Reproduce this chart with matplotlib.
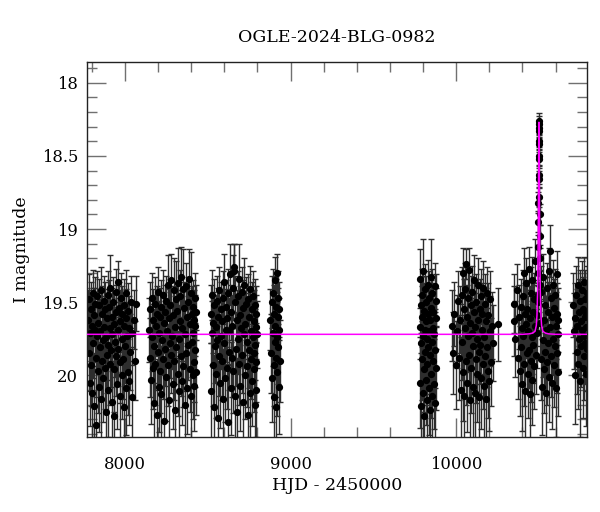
import numpy as np
import matplotlib
matplotlib.use("Agg")
import matplotlib.pyplot as plt
from matplotlib.ticker import MultipleLocator

TITLE = "OGLE-2024-BLG-0982"
XLABEL = "HJD - 2450000"
YLABEL = "I magnitude"

# ---- season 1 ----
s1_t = [7778, 7781, 7783, 7786, 7790, 7792, 7795, 7799, 7802, 7804,
        7807, 7811, 7814, 7816, 7819, 7823, 7826, 7828, 7831, 7835,
        7838, 7840, 7843, 7847, 7850, 7852, 7855, 7859, 7862, 7864,
        7867, 7871, 7874, 7876, 7879, 7883, 7886, 7888, 7891, 7895,
        7898, 7900, 7903, 7907, 7910, 7912, 7915, 7919, 7922, 7924,
        7927, 7931, 7934, 7936, 7939, 7943, 7946, 7948, 7951, 7955,
        7958, 7960, 7963, 7967, 7970, 7972, 7975, 7979, 7982, 7984,
        7987, 7991, 7994, 7996, 7999, 8003, 8006, 8008, 8011, 8015,
        8018, 8021, 8025, 8029, 8034, 8039, 8045, 8052, 8058, 8064]
s1_mag = [19.62, 19.85, 19.48, 20.05, 19.71, 19.55, 19.93, 19.66, 20.12, 19.44,
          19.78, 19.59, 20.21, 19.69, 19.51, 19.88, 20.34, 19.73, 19.46, 19.97,
          19.64, 20.08, 19.52, 19.81, 19.70, 20.16, 19.42, 19.90, 19.58, 19.76,
          20.02, 19.49, 19.67, 19.95, 19.55, 20.25, 19.74, 19.61, 19.86, 19.45,
          19.79, 20.10, 19.53, 19.68, 19.92, 19.40, 19.83, 20.18, 19.60, 19.72,
          19.50, 19.96, 19.65, 20.28, 19.77, 19.43, 19.87, 19.57, 20.06, 19.69,
          19.36, 19.82, 19.54, 20.14, 19.63, 19.91, 19.47, 20.00, 19.75, 19.58,
          19.89, 19.66, 20.22, 19.52, 19.80, 19.61, 20.09, 19.44, 19.73, 19.98,
          19.56, 20.04, 19.68, 19.84, 19.50, 20.15, 19.71, 19.62, 19.90, 19.51]
s1_err = [0.20, 0.26, 0.17, 0.30, 0.22, 0.19, 0.28, 0.21, 0.33, 0.16,
          0.24, 0.19, 0.36, 0.22, 0.18, 0.27, 0.40, 0.23, 0.17, 0.29,
          0.21, 0.31, 0.18, 0.25, 0.22, 0.34, 0.16, 0.27, 0.19, 0.24,
          0.30, 0.17, 0.21, 0.28, 0.19, 0.37, 0.23, 0.20, 0.26, 0.16,
          0.24, 0.32, 0.18, 0.22, 0.28, 0.22, 0.25, 0.35, 0.20, 0.23,
          0.17, 0.29, 0.21, 0.38, 0.24, 0.16, 0.27, 0.19, 0.31, 0.22,
          0.14, 0.25, 0.18, 0.33, 0.21, 0.28, 0.17, 0.30, 0.23, 0.19,
          0.27, 0.21, 0.36, 0.18, 0.25, 0.20, 0.32, 0.16, 0.23, 0.29,
          0.19, 0.30, 0.22, 0.26, 0.18, 0.34, 0.22, 0.20, 0.27, 0.19]

# ---- season 2 ----
s2_t = [8146, 8150, 8153, 8157, 8160, 8163, 8167, 8170, 8173, 8177,
        8180, 8183, 8187, 8190, 8193, 8197, 8200, 8203, 8207, 8210,
        8213, 8217, 8220, 8223, 8227, 8230, 8233, 8237, 8240, 8243,
        8247, 8250, 8253, 8257, 8260, 8263, 8267, 8270, 8273, 8277,
        8280, 8283, 8287, 8290, 8293, 8297, 8300, 8303, 8307, 8310,
        8313, 8317, 8320, 8323, 8327, 8330, 8333, 8337, 8340, 8343,
        8347, 8350, 8353, 8357, 8360, 8363, 8367, 8370, 8373, 8377,
        8380, 8383, 8387, 8390, 8393, 8397, 8400, 8403, 8406, 8409,
        8411, 8413, 8415, 8417, 8419, 8421, 8423, 8425, 8427, 8429]
s2_mag = [19.69, 19.88, 19.55, 20.03, 19.74, 19.47, 19.95, 19.62, 20.19, 19.80,
          19.51, 19.92, 19.66, 20.27, 19.58, 19.84, 19.43, 20.08, 19.71, 19.60,
          19.97, 19.53, 20.13, 19.76, 19.45, 19.89, 19.64, 20.31, 19.57, 19.82,
          19.49, 20.01, 19.70, 19.38, 19.93, 19.61, 20.17, 19.78, 19.52, 19.86,
          19.35, 19.73, 20.06, 19.59, 19.42, 19.90, 19.67, 20.24, 19.48, 19.81,
          19.56, 19.99, 19.37, 19.75, 20.11, 19.63, 19.46, 19.87, 19.33, 20.04,
          19.68, 19.41, 19.94, 19.54, 20.20, 19.72, 19.39, 19.85, 19.60, 20.09,
          19.50, 19.79, 19.34, 19.96, 19.65, 20.14, 19.44, 19.77, 19.58, 20.00,
          19.71, 19.53, 19.91, 19.62, 20.07, 19.47, 19.83, 19.66, 19.98, 19.57]
s2_err = [0.22, 0.27, 0.19, 0.30, 0.23, 0.17, 0.28, 0.21, 0.34, 0.25,
          0.18, 0.28, 0.21, 0.38, 0.19, 0.26, 0.17, 0.31, 0.22, 0.20,
          0.29, 0.18, 0.33, 0.24, 0.17, 0.27, 0.21, 0.40, 0.19, 0.25,
          0.17, 0.30, 0.22, 0.20, 0.28, 0.20, 0.35, 0.24, 0.18, 0.26,
          0.18, 0.23, 0.31, 0.20, 0.22, 0.27, 0.21, 0.37, 0.26, 0.25,
          0.19, 0.29, 0.24, 0.23, 0.32, 0.21, 0.18, 0.27, 0.21, 0.30,
          0.22, 0.27, 0.28, 0.18, 0.36, 0.23, 0.16, 0.26, 0.20, 0.31,
          0.17, 0.24, 0.20, 0.29, 0.21, 0.33, 0.28, 0.24, 0.19, 0.30,
          0.22, 0.18, 0.27, 0.20, 0.31, 0.17, 0.25, 0.21, 0.29, 0.19]

# ---- season 3 ----
s3_t = [8517, 8520, 8524, 8527, 8530, 8534, 8537, 8540, 8544, 8547,
        8550, 8554, 8557, 8560, 8564, 8567, 8570, 8574, 8577, 8580,
        8584, 8587, 8590, 8594, 8597, 8600, 8604, 8607, 8610, 8614,
        8617, 8620, 8624, 8627, 8630, 8634, 8637, 8640, 8644, 8647,
        8650, 8654, 8657, 8660, 8664, 8667, 8670, 8674, 8677, 8680,
        8684, 8687, 8690, 8694, 8697, 8700, 8704, 8707, 8710, 8714,
        8717, 8720, 8724, 8727, 8730, 8734, 8737, 8740, 8744, 8747,
        8750, 8753, 8756, 8759, 8762, 8765, 8768, 8771, 8774, 8777,
        8779, 8781, 8783, 8785, 8787, 8789, 8790, 8791, 8792, 8794]
s3_mag = [19.58, 20.11, 19.71, 19.45, 19.93, 19.64, 20.22, 19.52, 19.80, 19.67,
          19.99, 19.49, 19.76, 20.29, 19.60, 19.87, 19.42, 20.05, 19.73, 19.55,
          19.90, 19.63, 20.16, 19.47, 19.78, 19.36, 20.02, 19.69, 19.53, 19.95,
          19.61, 20.32, 19.44, 19.84, 19.70, 19.31, 20.09, 19.57, 19.88, 19.66,
          19.40, 19.97, 19.29, 19.26, 20.14, 19.50, 19.82, 19.62, 20.25, 19.46,
          19.75, 19.34, 19.92, 19.59, 20.07, 19.68, 19.43, 19.86, 19.54, 20.18,
          19.72, 19.38, 20.00, 19.65, 19.51, 19.94, 19.77, 20.27, 19.48, 19.83,
          19.60, 20.12, 19.41, 19.89, 19.70, 19.55, 20.04, 19.74, 19.46, 19.96,
          19.63, 19.85, 20.20, 19.52, 19.79, 19.67, 20.10, 19.58, 19.91, 19.72]
s3_err = [0.20, 0.33, 0.22, 0.17, 0.28, 0.21, 0.36, 0.18, 0.25, 0.22,
          0.30, 0.17, 0.24, 0.39, 0.20, 0.27, 0.16, 0.31, 0.23, 0.19,
          0.27, 0.21, 0.34, 0.18, 0.25, 0.19, 0.30, 0.22, 0.18, 0.28,
          0.20, 0.40, 0.17, 0.26, 0.23, 0.21, 0.32, 0.19, 0.27, 0.21,
          0.22, 0.29, 0.19, 0.16, 0.33, 0.18, 0.25, 0.20, 0.37, 0.17,
          0.24, 0.24, 0.28, 0.20, 0.31, 0.22, 0.17, 0.26, 0.19, 0.34,
          0.23, 0.18, 0.30, 0.21, 0.18, 0.28, 0.24, 0.38, 0.17, 0.26,
          0.20, 0.33, 0.16, 0.27, 0.22, 0.19, 0.31, 0.23, 0.17, 0.29,
          0.21, 0.26, 0.35, 0.18, 0.24, 0.22, 0.32, 0.19, 0.27, 0.23]

# ---- season 4 ----
s4_t = [8878, 8882, 8886, 8889, 8892, 8895, 8897, 8899, 8901, 8903,
        8905, 8907, 8909, 8911, 8913, 8915, 8917, 8919, 8921, 8923,
        8925, 8927, 8929, 8931, 8934]
s4_mag = [19.62, 19.85, 19.50, 20.02, 19.71, 19.44, 19.93, 19.58, 20.15, 19.77,
          19.35, 19.66, 20.22, 19.53, 19.88, 19.30, 19.74, 19.98, 19.47, 19.81,
          19.60, 20.08, 19.69, 19.55, 19.90]
s4_err = [0.21, 0.27, 0.18, 0.30, 0.23, 0.17, 0.28, 0.20, 0.33, 0.24,
          0.16, 0.22, 0.36, 0.19, 0.27, 0.13, 0.24, 0.30, 0.18, 0.25,
          0.20, 0.32, 0.22, 0.19, 0.28]

# ---- season 5 ----
s5_t = [9780, 9782, 9784, 9786, 9788, 9790, 9792, 9794, 9796, 9798,
        9800, 9802, 9804, 9806, 9808, 9810, 9812, 9814, 9816, 9818,
        9820, 9822, 9824, 9826, 9828, 9830, 9832, 9834, 9836, 9838,
        9840, 9842, 9844, 9846, 9848, 9850, 9852, 9854, 9856, 9858,
        9860, 9863, 9866, 9869, 9871, 9873, 9875, 9877, 9879, 9880]
s5_mag = [19.67, 19.34, 20.05, 19.78, 19.52, 20.21, 19.60, 19.89, 19.45, 20.12,
          19.73, 19.29, 19.96, 19.56, 20.28, 19.69, 19.41, 19.84, 20.03, 19.63,
          19.50, 19.92, 19.75, 20.17, 19.38, 19.81, 19.58, 20.09, 19.70, 19.47,
          19.86, 20.24, 19.62, 19.33, 19.99, 19.54, 19.77, 20.14, 19.44, 19.68,
          19.90, 19.57, 20.06, 19.72, 19.39, 19.83, 20.19, 19.61, 19.95, 19.49]
s5_err = [0.22, 0.20, 0.31, 0.26, 0.19, 0.36, 0.21, 0.28, 0.18, 0.33,
          0.24, 0.22, 0.29, 0.19, 0.41, 0.23, 0.17, 0.27, 0.31, 0.21,
          0.18, 0.28, 0.25, 0.34, 0.17, 0.26, 0.20, 0.32, 0.23, 0.18,
          0.27, 0.38, 0.21, 0.26, 0.30, 0.19, 0.24, 0.35, 0.17, 0.22,
          0.28, 0.20, 0.31, 0.23, 0.16, 0.26, 0.36, 0.21, 0.29, 0.18]

# ---- season 6 ----
s6_t = [9973, 9980, 9988, 9996, 10004, 10012, 10020, 10026, 10030, 10034,
        10037, 10040, 10043, 10046, 10049, 10052, 10055, 10058, 10061, 10064,
        10067, 10070, 10073, 10076, 10079, 10082, 10085, 10088, 10091, 10094,
        10097, 10100, 10103, 10106, 10109, 10112, 10115, 10118, 10121, 10124,
        10127, 10130, 10133, 10136, 10139, 10142, 10145, 10148, 10151, 10154,
        10157, 10160, 10163, 10166, 10169, 10172, 10175, 10178, 10181, 10184,
        10187, 10190, 10194, 10198, 10202, 10207, 10212, 10218, 10224, 10253]
s6_mag = [19.66, 19.85, 19.58, 19.93, 19.70, 19.49, 19.88, 19.62, 20.10, 19.45,
          19.77, 19.30, 19.98, 19.55, 20.14, 19.68, 19.41, 19.90, 19.24, 19.60,
          20.05, 19.73, 19.47, 19.86, 19.28, 20.17, 19.64, 19.52, 19.95, 19.71,
          19.43, 20.08, 19.80, 19.57, 19.35, 20.12, 19.67, 19.89, 19.50, 19.75,
          19.99, 19.62, 19.38, 19.84, 20.15, 19.55, 19.79, 19.46, 20.02, 19.69,
          19.58, 19.92, 19.40, 20.07, 19.74, 19.51, 19.87, 20.16, 19.63, 19.44,
          19.81, 19.97, 19.59, 20.04, 19.70, 19.48, 19.91, 19.66, 19.78, 19.65]
s6_err = [0.24, 0.28, 0.22, 0.30, 0.25, 0.20, 0.29, 0.23, 0.36, 0.19,
          0.26, 0.17, 0.33, 0.21, 0.40, 0.24, 0.18, 0.30, 0.10, 0.22,
          0.34, 0.25, 0.19, 0.29, 0.15, 0.45, 0.23, 0.20, 0.31, 0.24,
          0.18, 0.37, 0.27, 0.21, 0.17, 0.42, 0.23, 0.30, 0.19, 0.26,
          0.33, 0.22, 0.18, 0.28, 0.44, 0.21, 0.27, 0.19, 0.35, 0.24,
          0.21, 0.31, 0.18, 0.38, 0.25, 0.20, 0.29, 0.43, 0.23, 0.18,
          0.27, 0.32, 0.22, 0.34, 0.24, 0.19, 0.30, 0.23, 0.26, 0.25]

# ---- season 7 (baseline part) ----
s7_t = [10347, 10352, 10358, 10365, 10372, 10380, 10385, 10389, 10392, 10395,
        10398, 10401, 10404, 10407, 10410, 10413, 10416, 10419, 10422, 10425,
        10428, 10431, 10434, 10437, 10440, 10443, 10446, 10449, 10452, 10455,
        10458, 10461, 10464, 10467, 10470, 10473, 10476, 10479, 10482, 10486,
        10490, 10494, 10507, 10511, 10515, 10519, 10522, 10525, 10528, 10531,
        10534, 10537, 10540, 10543, 10546, 10549, 10552, 10555, 10558, 10561,
        10564, 10567, 10570, 10573, 10576, 10579, 10582, 10585, 10588, 10591,
        10594, 10597, 10600, 10603, 10606, 10609, 10611, 10613, 10615, 10617]
s7_mag = [19.63, 19.51, 19.75, 19.42, 19.88, 19.60, 19.97, 19.53, 19.81, 19.68,
          20.06, 19.46, 19.73, 19.30, 19.92, 19.58, 20.11, 19.65, 19.37, 19.85,
          19.55, 19.99, 19.70, 19.27, 19.83, 20.13, 19.61, 19.44, 19.90, 19.74,
          19.35, 20.03, 19.57, 19.79, 19.48, 19.94, 19.66, 19.22, 19.86, 19.59,
          19.71, 19.50, 19.64, 19.89, 19.43, 20.08, 19.76, 19.33, 19.96, 19.62,
          19.52, 19.84, 20.12, 19.69, 19.40, 19.91, 19.57, 19.78, 19.29, 20.01,
          19.15, 19.67, 19.47, 19.87, 20.05, 19.60, 19.75, 19.38, 19.93, 19.54,
          19.80, 19.45, 20.09, 19.66, 19.31, 19.85, 19.58, 19.98, 19.72, 19.62]
s7_err = [0.24, 0.20, 0.26, 0.18, 0.28, 0.22, 0.31, 0.19, 0.26, 0.23,
          0.32, 0.18, 0.25, 0.17, 0.29, 0.21, 0.34, 0.23, 0.17, 0.27,
          0.20, 0.30, 0.24, 0.15, 0.26, 0.35, 0.22, 0.18, 0.28, 0.25,
          0.16, 0.31, 0.21, 0.26, 0.18, 0.29, 0.23, 0.15, 0.27, 0.21,
          0.24, 0.19, 0.22, 0.28, 0.18, 0.33, 0.25, 0.16, 0.30, 0.22,
          0.19, 0.27, 0.34, 0.23, 0.17, 0.29, 0.21, 0.25, 0.16, 0.31,
          0.18, 0.23, 0.19, 0.28, 0.32, 0.22, 0.25, 0.17, 0.29, 0.20,
          0.26, 0.18, 0.33, 0.23, 0.16, 0.27, 0.21, 0.30, 0.24, 0.22]

# ---- event peak points ----
peak_t = [10492.5, 10494.0, 10495.2, 10496.3, 10497.1, 10497.8, 10498.4, 10498.9, 10499.4, 10499.8,
          10500.2, 10500.6, 10501.1, 10501.6, 10502.2, 10502.9, 10503.6, 10504.5, 10505.6, 10507.2]
peak_mag = [19.45, 19.30, 19.12, 18.95, 18.82, 18.66, 18.52, 18.42, 18.33, 18.28,
            18.26, 18.31, 18.40, 18.50, 18.63, 18.78, 18.90, 19.05, 19.20, 19.38]
peak_err = [0.10, 0.09, 0.08, 0.07, 0.07, 0.06, 0.06, 0.05, 0.05, 0.05,
            0.05, 0.05, 0.05, 0.06, 0.06, 0.07, 0.07, 0.08, 0.09, 0.10]

# ---- season 8 ----
s8_t = [10708, 10712, 10716, 10720, 10724, 10728, 10731, 10734, 10737, 10740,
        10743, 10746, 10749, 10752, 10755, 10758, 10761, 10764, 10767, 10770,
        10772, 10774, 10776, 10778, 10780, 10782, 10784, 10786, 10788, 10790]
s8_mag = [19.52, 19.70, 19.61, 20.00, 19.45, 19.84, 19.66, 19.38, 19.92, 19.57,
          19.75, 19.49, 20.04, 19.63, 19.80, 19.42, 19.69, 19.95, 19.55, 19.73,
          19.36, 19.87, 19.60, 19.48, 19.78, 19.99, 19.58, 19.67, 19.44, 19.82]
s8_err = [0.22, 0.26, 0.24, 0.33, 0.20, 0.29, 0.25, 0.19, 0.31, 0.23,
          0.27, 0.21, 0.38, 0.24, 0.28, 0.20, 0.26, 0.34, 0.22, 0.27,
          0.17, 0.30, 0.23, 0.20, 0.28, 0.36, 0.22, 0.25, 0.19, 0.29]

# ---- model curve ----
model_t = [7772, 10400, 10440, 10460, 10476, 10484, 10488, 10492, 10494, 10496,
           10497, 10498, 10499, 10500, 10501, 10502, 10503, 10504, 10506, 10508,
           10512, 10516, 10524, 10540, 10560, 10600, 10792]
model_mag = [19.72, 19.72, 19.717, 19.712, 19.70, 19.66, 19.59, 19.42, 19.25, 18.99,
             18.80, 18.58, 18.37, 18.27, 18.37, 18.58, 18.80, 18.99, 19.25, 19.42,
             19.59, 19.66, 19.70, 19.712, 19.717, 19.72, 19.72]

XLIM = (7772, 10792)
YLIM = (20.42, 17.86)

t_all = np.concatenate([s1_t, s2_t, s3_t, s4_t, s5_t, s6_t, s7_t, peak_t, s8_t])
m_all = np.concatenate([s1_mag, s2_mag, s3_mag, s4_mag, s5_mag, s6_mag, s7_mag, peak_mag, s8_mag])
e_all = np.concatenate([s1_err, s2_err, s3_err, s4_err, s5_err, s6_err, s7_err, peak_err, s8_err])

plt.rcParams['font.family'] = ['DejaVu Serif']

W, H = 600, 512
fig = plt.figure(figsize=(W / 100, H / 100), dpi=100)
L, R, T, B = 87.3, 587.3, 62.3, 436.7
ax = fig.add_axes([L / W, 1 - B / H, (R - L) / W, (B - T) / H])

eb = ax.errorbar(t_all, m_all, yerr=e_all, fmt='o', color='black', ms=4.2,
                 mec='black', mfc='black', ecolor='#2e2e2e', elinewidth=1.0,
                 capsize=2.4, capthick=1.0, zorder=2)
for cap in eb[1]:
    cap.set_color('black')

ax.plot(model_t, model_mag, color='#ff00ff', lw=1.1, zorder=3)

ax.set_xlim(*XLIM)
ax.set_ylim(*YLIM)

ax.xaxis.set_major_locator(MultipleLocator(1000))
ax.xaxis.set_minor_locator(MultipleLocator(200))
ax.yaxis.set_major_locator(MultipleLocator(0.5))
ax.yaxis.set_minor_locator(MultipleLocator(0.1))
ax.yaxis.set_major_formatter(plt.FuncFormatter(lambda v, p: f"{v:g}"))

ax.tick_params(which='both', direction='in', top=True, right=True, color='#707070', width=1.0)
ax.tick_params(which='major', length=13.7)
ax.tick_params(which='minor', length=7.2)
ax.tick_params(axis='x', which='major', pad=14, labelsize=11.8)
ax.tick_params(axis='y', which='major', pad=6.5, labelsize=11.8)
for s in ax.spines.values():
    s.set_linewidth(1.0)
    s.set_color('#222222')

fig.text(337 / W, 1 - 37 / H, TITLE, ha='center', va='center', fontsize=12.5)
fig.text(337 / W, 1 - 485 / H, XLABEL, ha='center', va='center', fontsize=12.5)
fig.text(22 / W, 1 - 249.5 / H, YLABEL, ha='center', va='center', rotation=90, fontsize=12.5)

fig.savefig('out.png', dpi=100)
